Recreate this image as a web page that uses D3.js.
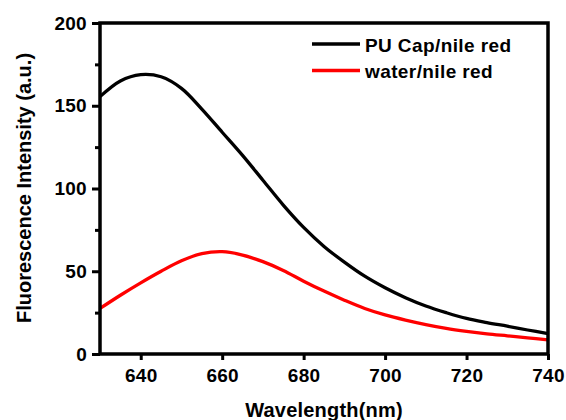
<!DOCTYPE html>
<html>
<head>
<meta charset="utf-8">
<script src="https://cdn.jsdelivr.net/npm/d3@7"></script>
<style>
html,body{margin:0;padding:0;background:#fff;}
svg{display:block;font-family:"Liberation Sans",Arial,sans-serif;font-weight:bold;}
</style>
</head>
<body>
<svg id="chart" width="566" height="420"></svg>
<script>
const wavelengths = [630,635,640,645,650,655,660,665,670,675,680,685,690,695,700,705,710,715,720,725,730,735,740];
const puCap = [155.5,165,168.8,167.5,160.5,148,134,120,105,90,76.5,65,55.5,47,40,34,29,25,21.5,19,16.8,14.5,12.3];
const water = [27.5,35.5,43,50,56.3,60.6,61.8,59.8,55.8,50.5,44,38,32.5,27.5,23.6,20.5,17.8,15.5,13.7,12.2,11,9.8,8.5];
const seriesNames = ["PU Cap/nile red","water/nile red"];
const seriesColors = ["#000000","#ff0000"];
const xTicks = [640,660,680,700,720,740];
const yTicks = [0,50,100,150,200];
const yMinorTicks = [25,75,125,175];
const xTitle = "Wavelength(nm)";
const yTitle = "Fluorescence Intensity (a.u.)";

const svg = d3.select("#chart");
const L = 100, R = 548, T = 23, B = 354;
const x = d3.scaleLinear().domain([630,740]).range([L,R]);
const y = d3.scaleLinear().domain([0,200]).range([B,T]);

// curves
const series = [puCap, water];
const line = d3.line().x(d => x(d[0])).y(d => y(d[1])).curve(d3.curveCatmullRom.alpha(0.5));
series.forEach((vals,i) => {
  svg.append("path")
    .datum(wavelengths.map((w,j) => [w, vals[j]]))
    .attr("d", line)
    .attr("fill","none")
    .attr("stroke", seriesColors[i])
    .attr("stroke-width", 3.3)
    .attr("stroke-linejoin","round");
});

// axes
const xAxis = d3.axisBottom(x).tickValues(xTicks).tickSize(6).tickPadding(9);
const gx = svg.append("g").attr("transform",`translate(0,${B})`).call(xAxis);
const yAxis = d3.axisLeft(y).tickValues(yTicks).tickSize(8).tickPadding(5);
const gy = svg.append("g").attr("transform",`translate(${L},0)`).call(yAxis);
const yMinor = d3.axisLeft(y).tickValues(yMinorTicks).tickSize(5).tickFormat("");
const gym = svg.append("g").attr("transform",`translate(${L},0)`).call(yMinor);
[gx,gy,gym].forEach(g => {
  g.select(".domain").remove();
  g.selectAll(".tick line").attr("stroke","#000").attr("stroke-width",3);
  g.selectAll(".tick text").attr("fill","#000").style("font-size","19px").style("font-weight","bold")
    .style("font-family","'Liberation Sans',Arial,sans-serif").style("letter-spacing","0.3px");
});

// frame
svg.append("rect")
  .attr("x", L).attr("y", T).attr("width", R-L).attr("height", B-T)
  .attr("fill","none").attr("stroke","#000").attr("stroke-width",3.5);

// titles
svg.append("text").attr("x", 324).attr("y", 417).attr("text-anchor","middle")
  .style("font-size","20px").style("letter-spacing","0.2px").text(xTitle);
svg.append("text").attr("transform","translate(31,188) rotate(-90)").attr("text-anchor","middle")
  .style("font-size","20px").text(yTitle);

// legend
const legY = [44, 70.5];
const legBase = [51.5, 78];
seriesNames.forEach((n,i) => {
  svg.append("line").attr("x1",312).attr("x2",360).attr("y1",legY[i]).attr("y2",legY[i])
    .attr("stroke",seriesColors[i]).attr("stroke-width",3.3);
  svg.append("text").attr("x",365).attr("y",legBase[i]).style("font-size","19px")
    .style("letter-spacing","0.4px").text(n);
});
</script>
</body>
</html>
